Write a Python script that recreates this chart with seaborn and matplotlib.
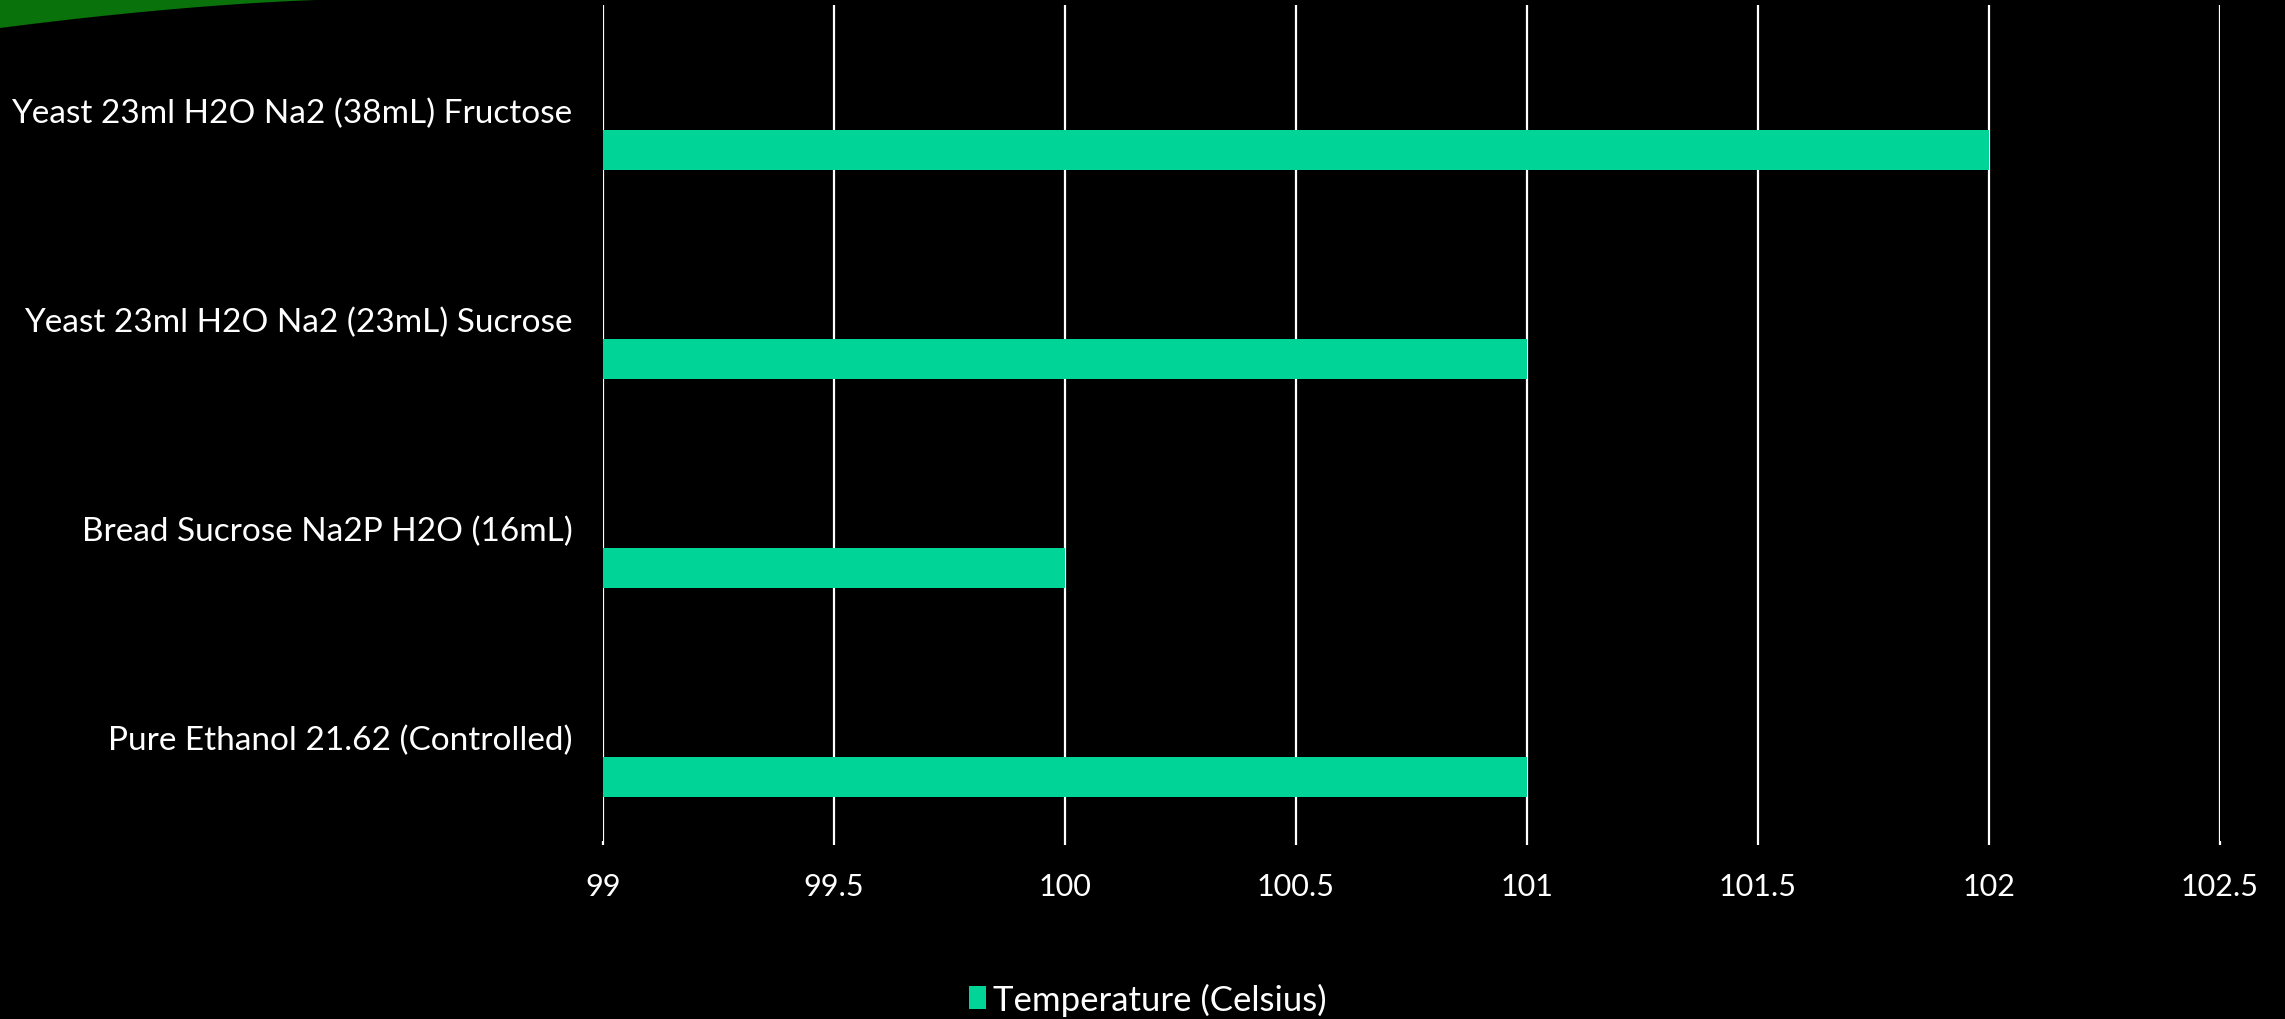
import matplotlib
matplotlib.use("Agg")
import matplotlib.pyplot as plt
import numpy as np
import pandas as pd
import seaborn as sns
from matplotlib.patches import Patch, Polygon

# datos del grafico
categorias = ["Yeast 23ml H2O Na2 (38mL) Fructose",
              "Yeast 23ml H2O Na2 (23mL) Sucrose",
              "Bread Sucrose Na2P H2O (16mL)",
              "Pure Ethanol 21.62 (Controlled)"]
temperatura = [102, 101, 100, 101]
# series vacias del grafico original (ocupan espacio pero no tienen datos)
series = ["Series 2", "Series 3", "Temperature (Celsius)"]
ticks_x = [99, 99.5, 100, 100.5, 101, 101.5, 102, 102.5]

verde = "#00D597"

filas = []
for s in series:
    for c, t in zip(categorias, temperatura):
        filas.append({"categoria": c, "serie": s,
                      "valor": t if s == "Temperature (Celsius)" else np.nan})
df = pd.DataFrame(filas)

sns.set_style("dark", {"axes.facecolor": "black", "figure.facecolor": "black"})
plt.rcParams["font.family"] = ["Lato", "DejaVu Sans"]

fig = plt.figure(figsize=(22.85, 10.2), dpi=100)
fig.patch.set_facecolor("black")
ax = fig.add_axes([603 / 2285, 1 - 842 / 1020, (2220 - 603) / 2285, (842 - 6) / 1020])
ax.set_facecolor("black")

sns.barplot(data=df, y="categoria", x="valor", hue="serie", hue_order=series,
            order=categorias, palette={s: verde for s in series},
            saturation=1, linewidth=0, edgecolor="none",
            width=0.575, dodge=True, legend=False, ax=ax, zorder=3)

ax.set_xlim(99, 102.5)
ax.set_xticks(ticks_x)
ax.set_xticklabels([f"{t:g}" for t in ticks_x])
ax.grid(axis="x", color="white", linewidth=1.6, zorder=1)
ax.grid(axis="y", visible=False)
for sp in ax.spines.values():
    sp.set_visible(False)
ax.set_xlabel("")
ax.set_ylabel("")
ax.tick_params(axis="x", colors="white", labelsize=22, length=3, width=1.6, pad=19, direction="out")
ax.tick_params(axis="y", colors="white", labelsize=24, length=0, pad=22)
ax.tick_params(axis="x", bottom=True)

fig.legend(handles=[Patch(facecolor=verde, edgecolor="none")],
           labels=["Temperature (Celsius)"], loc="center",
           bbox_to_anchor=(0.5024, 0.0196), frameon=False, fontsize=25,
           labelcolor="white", handlelength=0.5, handleheight=0.65,
           handletextpad=0.2)

# forma verde decorativa de la esquina superior izquierda
xs = np.linspace(0, 360, 80)
ys = 1020 - 29 * (1 - xs / 360) ** 1.6
pts = np.column_stack([np.r_[0, xs, 360], np.r_[1020, ys, 1020]])
fig.add_artist(Polygon(pts, closed=True, transform=None, facecolor="#0a720a",
                       edgecolor="none"))

fig.savefig("out.png", dpi=100, facecolor="black")
